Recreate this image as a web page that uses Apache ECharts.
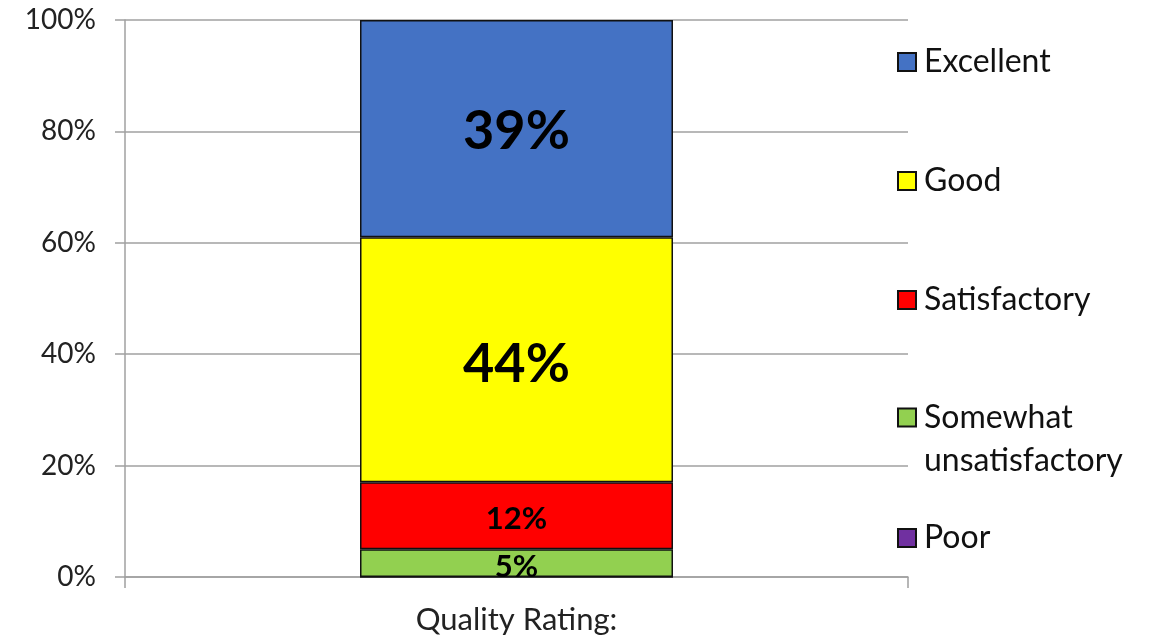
<!DOCTYPE html>
<html>
<head>
<meta charset="utf-8">
<script src="https://cdn.jsdelivr.net/npm/echarts@6/dist/echarts.min.js"></script>
<style>
html,body{margin:0;padding:0;background:#fff;}
#chart{width:1153px;height:643px;}
</style>
</head>
<body>
<div id="chart"></div>
<script>
const categories = ['Quality Rating:'];
const legendOrder = ['Excellent', 'Good', 'Satisfactory', 'Somewhat unsatisfactory', 'Poor'];
const poorValues = [0];
const somewhatValues = [5];
const satisfactoryValues = [12];
const goodValues = [44];
const excellentValues = [39];
const yTickValues = [0, 20, 40, 60, 80, 100];

const FONT = 'Lato';
const LEG_SIZE = 32;
const chart = echarts.init(document.getElementById('chart'));

function mkSeries(name, data, color, labelSize, offset) {
  return {
    name: name,
    type: 'bar',
    stack: 'total',
    barWidth: 313,
    data: data,
    itemStyle: { color: color, borderColor: '#111', borderWidth: 1.5 },
    label: {
      show: labelSize > 0,
      position: 'inside',
      offset: offset || [0, 0],
      formatter: '{c}%',
      color: '#000',
      fontFamily: FONT,
      fontWeight: 'bold',
      fontSize: labelSize
    }
  };
}

function mkLegend(name, top, extra) {
  const lg = {
    data: [name],
    orient: 'vertical',
    left: 892,
    top: top,
    icon: 'rect',
    itemWidth: 18,
    itemHeight: 18,
    selectedMode: false,
    textStyle: { fontFamily: FONT, fontSize: LEG_SIZE, color: '#111', padding: [0, 0, 0, 3] }
  };
  if (extra) Object.assign(lg, extra);
  return lg;
}

const option = {
  animation: false,
  backgroundColor: '#fff',
  grid: { left: 125, right: 245, top: 20, bottom: 66 },
  legend: [
    mkLegend(legendOrder[0], 41),
    mkLegend(legendOrder[1], 160),
    mkLegend(legendOrder[2], 279),
    mkLegend(legendOrder[3], 348, {
      formatter: function () { return '\nSomewhat\nunsatisfactory'; },
      textStyle: { fontFamily: FONT, fontSize: LEG_SIZE, color: '#111', lineHeight: 43, padding: [0, 0, 0, 3] }
    }),
    mkLegend(legendOrder[4], 517)
  ],
  xAxis: {
    type: 'category',
    data: categories,
    boundaryGap: true,
    axisLine: { lineStyle: { color: '#a0a0a0', width: 1.5 } },
    axisTick: { show: true, length: 11, lineStyle: { color: '#a0a0a0', width: 1.5 } },
    axisLabel: { fontFamily: FONT, fontSize: 31, color: '#222', margin: 27 }
  },
  yAxis: {
    type: 'value',
    min: yTickValues[0],
    max: yTickValues[yTickValues.length - 1],
    interval: 20,
    axisLine: { show: true, lineStyle: { color: '#a0a0a0', width: 1.5 } },
    axisTick: { show: true, length: 10, lineStyle: { color: '#a0a0a0', width: 1.5 } },
    splitLine: { lineStyle: { color: '#a0a0a0', width: 1.5 } },
    axisLabel: { fontFamily: FONT, fontSize: 28, color: '#222', margin: 29, formatter: '{value}%' }
  },
  series: [
    mkSeries('Poor', poorValues, '#7030A0', 0),
    mkSeries('Somewhat unsatisfactory', somewhatValues, '#92D050', 31, [0, 4]),
    mkSeries('Satisfactory', satisfactoryValues, '#FF0000', 31, [0, 3]),
    mkSeries('Good', goodValues, '#FFFF00', 54, [0, 5]),
    mkSeries('Excellent', excellentValues, '#4472C4', 54, [0, 3])
  ]
};
chart.setOption(option);
</script>
</body>
</html>
